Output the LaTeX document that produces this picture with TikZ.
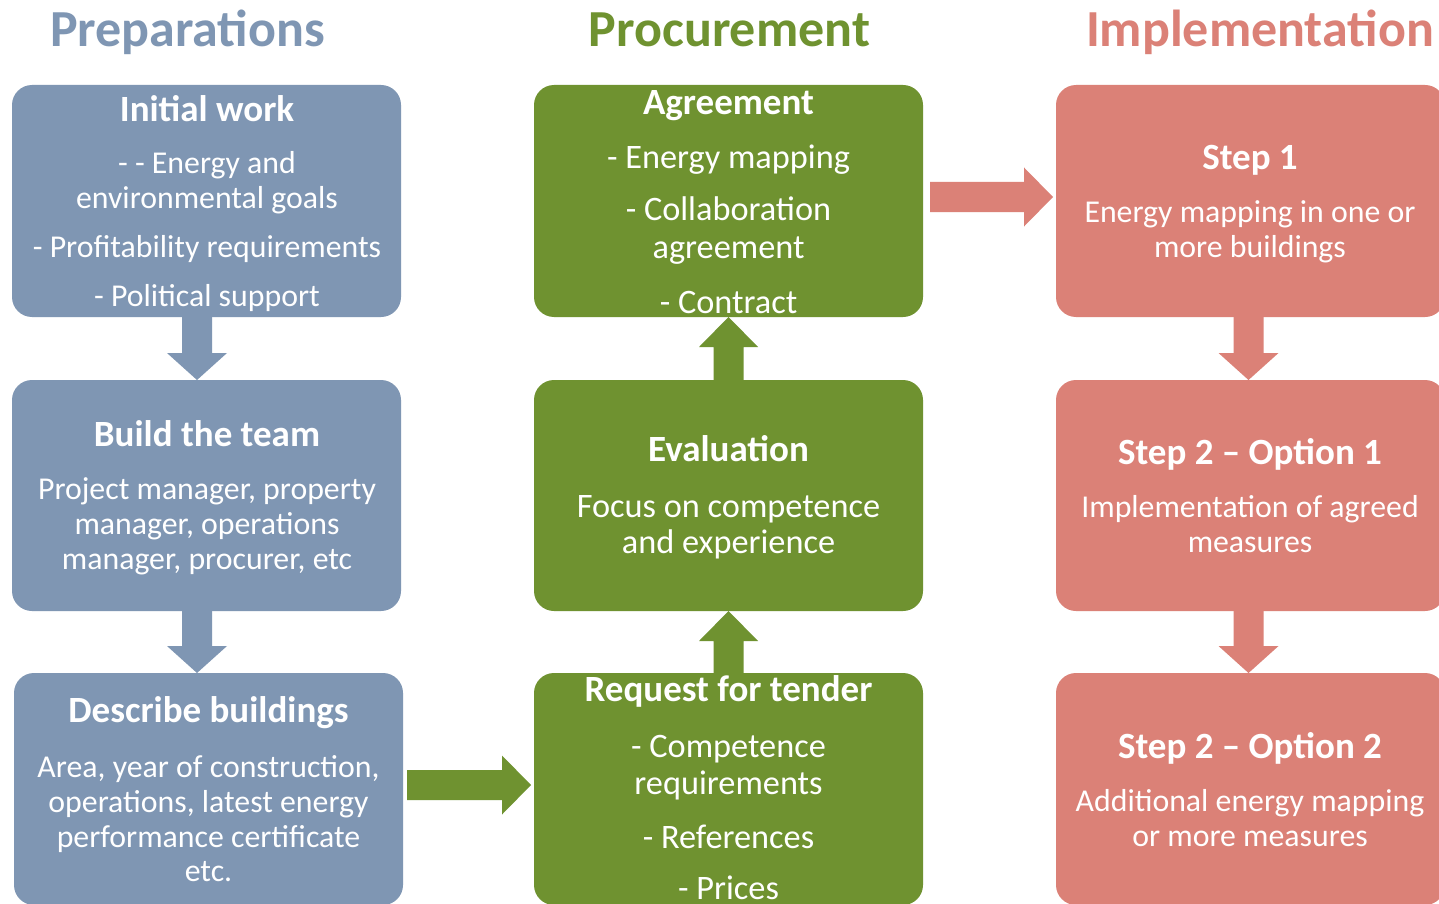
\documentclass[tikz,border=0pt]{standalone}
\usepackage{fontspec}
\setmainfont{Carlito}
\usetikzlibrary{calc}
\definecolor{pblue}{RGB}{127,150,179}
\definecolor{pgreen}{RGB}{111,146,48}
\definecolor{pred}{RGB}{219,129,119}
\tikzset{
  box/.style={rounded corners=20pt, minimum width=389pt, minimum height=232pt, inner sep=0pt, outer sep=0pt, anchor=north west, draw=none},
  ttl/.style={anchor=base, yshift=-1.5pt, text=white, font=\fontsize{37}{44}\selectfont\bfseries, inner sep=0pt},
  bodyS/.style={anchor=base, yshift=-1.5pt, text=white, font=\fontsize{31.8}{38}\selectfont, inner sep=0pt},
  bodyL/.style={anchor=base, yshift=-1.5pt, text=white, font=\fontsize{34.3}{41}\selectfont, inner sep=0pt},
  colhead/.style={anchor=base, yshift=-1.5pt, font=\fontsize{52}{60}\selectfont\bfseries, inner sep=0pt},
}
% block arrows (canvas coordinates inside let)
\newcommand\arrdown[3]{\fill[#1] let \p1=#2, \p2=#3 in
  (\x1-15pt,\y1) -- (\x1-15pt,\y2+27pt) -- (\x1-30pt,\y2+27pt) -- (\x1,\y2) --
  (\x1+30pt,\y2+27pt) -- (\x1+15pt,\y2+27pt) -- (\x1+15pt,\y1) -- cycle;}
\newcommand\arrup[3]{\fill[#1] let \p1=#2, \p2=#3 in
  (\x1-15pt,\y1) -- (\x1-15pt,\y2-30pt) -- (\x1-29.5pt,\y2-30pt) -- (\x1,\y2) --
  (\x1+29.5pt,\y2-30pt) -- (\x1+15pt,\y2-30pt) -- (\x1+15pt,\y1) -- cycle;}
\newcommand\arrright[3]{\fill[#1] let \p1=#2, \p2=#3 in
  (\x1,\y1+15pt) -- (\x2-29pt,\y1+15pt) -- (\x2-29pt,\y1+29.5pt) -- (\x2,\y1) --
  (\x2-29pt,\y1-29.5pt) -- (\x2-29pt,\y1-15pt) -- (\x1,\y1-15pt) -- cycle;}
\begin{document}
\begin{tikzpicture}[x=1pt,y=-1pt]
\useasboundingbox (0,0) rectangle (1439,904);
\fill[white] (0,0) rectangle (1439,904);

% column headings
\node[colhead, text=pblue] (hprep) at (187.5,45) {Preparations};
\node[colhead, text=pgreen] (hproc) at (729.5,45) {Procurement};
\node[colhead, text=pred] (himpl) at (1260,45) {Implementation};

% boxes
\node[box, fill=pblue] (iw) at (12,85) {};
\node[box, fill=pblue, minimum height=231pt] (bt) at (12,380) {};
\node[box, fill=pblue] (db) at (14,673) {};
\node[box, fill=pgreen] (ag) at (534,85) {};
\node[box, fill=pgreen, minimum height=231pt] (ev) at (534,380) {};
\node[box, fill=pgreen] (rt) at (534,673) {};
\node[box, fill=pred] (s1) at (1056,85) {};
\node[box, fill=pred, minimum height=231pt] (s2) at (1056,380) {};
\node[box, fill=pred] (s3) at (1056,673) {};

% connectors
\arrdown{pblue}{($(iw.south)+(-9.5,0)$)}{(bt.north)}
\arrdown{pblue}{($(bt.south)+(-9.5,0)$)}{(db.north)}
\arrup{pgreen}{(ev.north)}{(ag.south)}
\arrup{pgreen}{(rt.north)}{(ev.south)}
\arrdown{pred}{($(s1.south)+(-2,0)$)}{(s2.north)}
\arrdown{pred}{($(s2.south)+(-2,0)$)}{(s3.north)}
\arrright{pgreen}{($(db.east)+(4,-4)$)}{($(rt.west)+(-3,0)$)}
\arrright{pred}{($(ag.east)+(7,-4)$)}{($(s1.west)+(-3,0)$)}

% texts: Initial work
\node[ttl] (iwt) at (207,120) {Initial work};
\node[bodyS] (iw1) at (207,172) {- - Energy and};
\node[bodyS] (iw2) at (207,207) {environmental goals};
\node[bodyS] (iw3) at (207,256) {- Profitability requirements};
\node[bodyS] (iw4) at (207,305) {- Political support};
% Build the team
\node[ttl] (btt) at (207,445) {Build the team};
\node[bodyS] (bt1) at (207,498) {Project manager, property};
\node[bodyS] (bt2) at (207,533) {manager, operations};
\node[bodyS] (bt3) at (207,568) {manager, procurer, etc};
% Describe buildings
\node[ttl] (dbt) at (208.5,721) {Describe buildings};
\node[bodyS] (db1) at (208.5,776) {Area, year of construction,};
\node[bodyS] (db2) at (208.5,811) {operations, latest energy};
\node[bodyS] (db3) at (208.5,846) {performance certificate};
\node[bodyS] (db4) at (208.5,880) {etc.};
% Agreement
\node[ttl] (agt) at (728.5,113) {Agreement};
\node[bodyL] (ag1) at (728.5,167) {- Energy mapping};
\node[bodyL] (ag2) at (728.5,219) {- Collaboration};
\node[bodyL] (ag3) at (728.5,257) {agreement};
\node[bodyL] (ag4) at (728.5,312) {- Contract};
% Evaluation
\node[ttl] (evt) at (728.5,460) {Evaluation};
\node[bodyL] (ev1) at (728.5,516) {Focus on competence};
\node[bodyL] (ev2) at (728.5,552) {and experience};
% Request for tender
\node[ttl] (rtt) at (728.5,700) {Request for tender};
\node[bodyL] (rt1) at (728.5,756) {- Competence};
\node[bodyL] (rt2) at (728.5,793) {requirements};
\node[bodyL] (rt3) at (728.5,847) {- References};
\node[bodyL] (rt4) at (728.5,898) {- Prices};
% Step 1
\node[ttl] (s1t) at (1250,168) {Step 1};
\node[bodyS] (s11) at (1250,221) {Energy mapping in one or};
\node[bodyS] (s12) at (1250,256) {more buildings};
% Step 2 - Option 1
\node[ttl] (s2t) at (1250,463) {Step 2 – Option 1};
\node[bodyS] (s21) at (1250,516) {Implementation of agreed};
\node[bodyS] (s22) at (1250,551) {measures};
% Step 2 - Option 2
\node[ttl] (s3t) at (1250,757) {Step 2 – Option 2};
\node[bodyS] (s31) at (1250,810) {Additional energy mapping};
\node[bodyS] (s32) at (1250,845) {or more measures};
\end{tikzpicture}
\end{document}
